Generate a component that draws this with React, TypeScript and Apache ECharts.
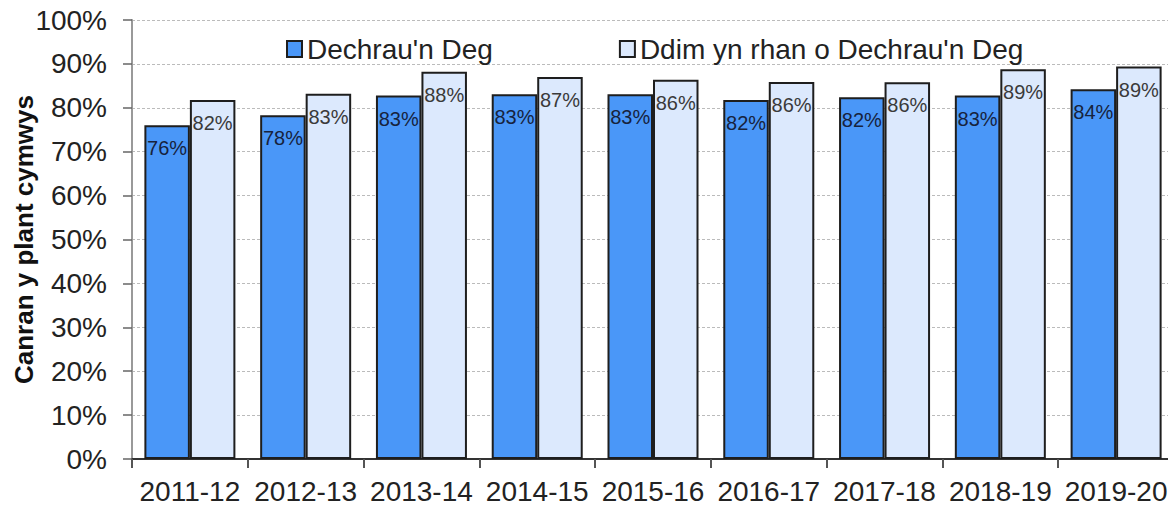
import React, { useEffect, useRef } from "react";
import * as echarts from "echarts";

const categories = ["2011-12", "2012-13", "2013-14", "2014-15", "2015-16", "2016-17", "2017-18", "2018-19", "2019-20"];
const dechrauValues = [76.0, 78.3, 82.8, 83.1, 83.1, 81.8, 82.4, 82.8, 84.2];
const otherValues = [81.8, 83.2, 88.2, 87.0, 86.4, 85.9, 85.8, 88.8, 89.4];
const seriesNames = ["Dechrau'n Deg", "Ddim yn rhan o Dechrau'n Deg"];
const yAxisName = "Canran y plant cymwys";

const FONT = "'Liberation Sans', Arial, sans-serif";

export default function App() {
  const ref = useRef<HTMLDivElement>(null);
  useEffect(() => {
    if (!ref.current) return;
    const chart = echarts.init(ref.current, null, { renderer: "svg" });
    const labelFor = (color: string) => ({
      show: true,
      position: "insideTop",
      distance: 13,
      fontSize: 20,
      fontFamily: FONT,
      color,
      formatter: (p: any) => Math.round(p.value) + "%",
    });
    chart.setOption({
      animation: false,
      textStyle: { fontFamily: FONT },
      grid: { left: 132, top: 20, bottom: 47, right: -6, containLabel: false, outerBoundsMode: "none" },
      legend: {
        left: 286,
        top: 35,
        padding: 0,
        icon: "rect",
        itemWidth: 15,
        itemHeight: 16,
        itemGap: 126,
        textStyle: { fontSize: 28, color: "#222", fontFamily: FONT },
        data: seriesNames,
      },
      xAxis: {
        type: "category",
        data: categories,
        axisLine: { lineStyle: { color: "#333", width: 2 } },
        axisTick: { show: true, alignWithLabel: false, length: 9, lineStyle: { color: "#555", width: 2 } },
        axisLabel: { fontSize: 28, color: "#222", margin: 18, fontFamily: FONT, interval: 0 },
      },
      yAxis: {
        type: "value",
        min: 0,
        max: 100,
        interval: 10,
        name: yAxisName,
        nameLocation: "middle",
        nameGap: 95,
        nameMoveOverlap: false,
        nameTextStyle: { fontSize: 26, fontWeight: "bold", color: "#111", fontFamily: FONT },
        axisLine: { show: true, lineStyle: { color: "#999", width: 2 } },
        axisTick: { show: true, length: 9, lineStyle: { color: "#666", width: 1.5 } },
        axisLabel: { fontSize: 28, color: "#222", margin: 25, formatter: "{value}%", fontFamily: FONT },
        splitLine: { show: true, lineStyle: { color: "#bbb", type: [3, 2], width: 1 } },
      },
      series: [
        {
          name: seriesNames[0],
          type: "bar",
          data: dechrauValues,
          barGap: "0%",
          barCategoryGap: "21.4%",
          itemStyle: { color: "#4a97f8", borderColor: "#1e1e1e", borderWidth: 2 },
          label: labelFor("#17233d"),
        },
        {
          name: seriesNames[1],
          type: "bar",
          data: otherValues,
          barGap: "0%",
          barCategoryGap: "21.4%",
          itemStyle: { color: "#dce9fd", borderColor: "#1e1e1e", borderWidth: 2 },
          label: labelFor("#3a3a3a"),
        },
      ],
    });
    return () => chart.dispose();
  }, []);
  return <div ref={ref} style={{ position: "absolute", left: 0, top: 0, width: 1168, height: 506 }} />;
}
